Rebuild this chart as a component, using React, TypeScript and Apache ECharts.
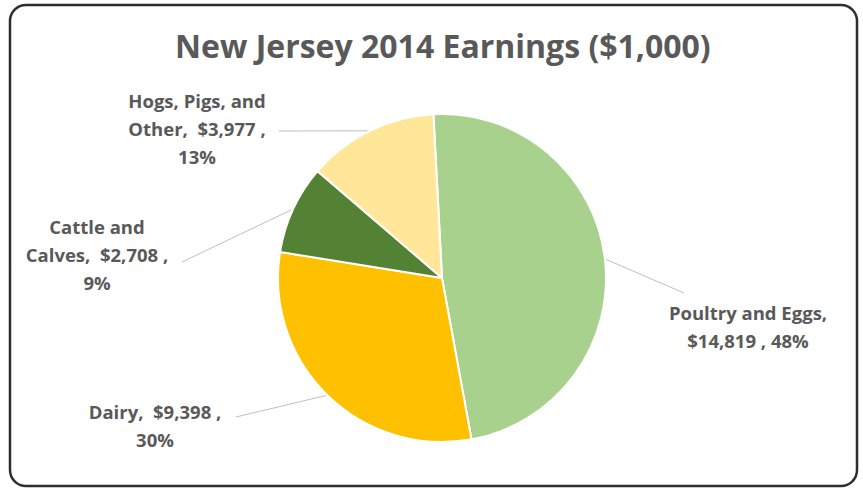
import React, { useEffect, useRef } from "react";
import * as echarts from "echarts";

const titleText = "New Jersey 2014 Earnings ($1,000)";
const categories = ["Poultry and Eggs", "Dairy", "Cattle and Calves", "Hogs, Pigs, and Other"];
const values = [14819, 9398, 2708, 3977];
const colors = ["#A9D18E", "#FFC000", "#548235", "#FFE699"];
// how each label is wrapped (as in the reference)
const labelLines = [
  ["Poultry and Eggs,", "{v} , {p}%"],
  ["Dairy,  {v} ,", "{p}%"],
  ["Cattle and", "Calves,  {v} ,", "{p}%"],
  ["Hogs, Pigs, and", "Other,  {v} ,", "{p}%"],
];
// label centre positions and leader-line ends (layout, not data)
const labelPos = [
  { x: 748, y: 326, lx: 684, ly: 293 },
  { x: 155, y: 425, lx: 236, ly: 417 },
  { x: 97, y: 254, lx: 182, ly: 262 },
  { x: 197, y: 128, lx: 279, ly: 131 },
];

const fmtMoney = (v: number) => "$" + v.toLocaleString("en-US");

export default function App() {
  const ref = useRef<HTMLDivElement>(null);
  useEffect(() => {
    if (!ref.current) return;
    const chart = echarts.init(ref.current, null, { renderer: "svg" });
    const font = "'Open Sans', 'Noto Sans', sans-serif";
    chart.setOption({
      animation: false,
      backgroundColor: "#ffffff",
      title: {
        text: titleText,
        left: 170,
        top: 24,
        textStyle: { fontFamily: font, fontSize: 32, fontWeight: 700, color: "#595959" },
      },
      graphic: [
        {
          type: "rect",
          shape: { x: 10, y: 5, width: 847, height: 481, r: 16 },
          style: { fill: "none", stroke: "#2e2e2e", lineWidth: 2.5 },
          silent: true,
          z: -1,
        },
      ],
      series: [
        {
          type: "pie",
          center: [442, 278],
          radius: 164,
          startAngle: 93,
          clockwise: true,
          percentPrecision: 0,
          data: categories.map((name, i) => ({
            name,
            value: values[i],
            itemStyle: { color: colors[i] },
          })),
          itemStyle: { borderColor: "#ffffff", borderWidth: 2 },
          label: {
            show: true,
            position: "outside",
            fontFamily: font,
            fontSize: 18.5,
            fontWeight: 700,
            color: "#595959",
            lineHeight: 28,
            align: "center",
            formatter: (p: any) =>
              labelLines[p.dataIndex]
                .map((l) => l.replace("{v}", fmtMoney(p.value)).replace("{p}", String(p.percent)))
                .join("\n"),
          },
          labelLine: {
            show: true,
            length: 20,
            length2: 20,
            lineStyle: { color: "#BFBFBF", width: 1 },
          },
          labelLayout: (params: any) => {
            const pos = labelPos[params.dataIndex];
            const p0 = params.labelLinePoints ? params.labelLinePoints[0] : [pos.lx, pos.ly];
            return {
              x: pos.x,
              y: pos.y,
              align: "center",
              verticalAlign: "middle",
              labelLinePoints: [p0, [pos.lx, pos.ly], [pos.lx, pos.ly]],
            };
          },
        },
      ],
    });
    return () => chart.dispose();
  }, []);
  return (
    <div
      ref={ref}
      style={{ position: "absolute", left: 0, top: 0, width: 863, height: 489 }}
    />
  );
}
